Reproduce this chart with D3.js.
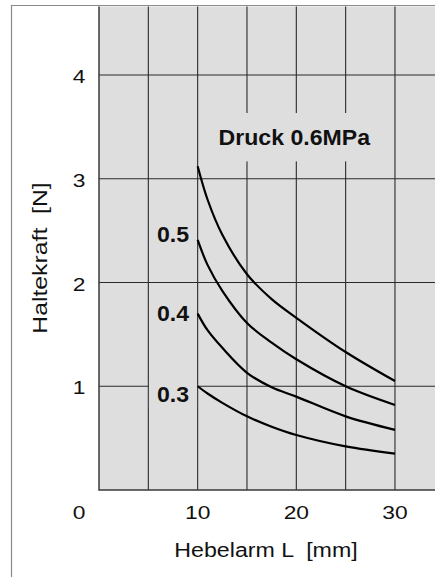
<!DOCTYPE html>
<html>
<head>
<meta charset="utf-8">
<script src="https://cdn.jsdelivr.net/npm/d3@7"></script>
<style>
  body { margin: 0; background: #fff; }
  svg { display: block; }
  text { white-space: pre; }
</style>
</head>
<body>
<div id="chart"></div>
<script>
'use strict';

// Hebelarm L [mm] and Haltekraft [N] per Druck
var hebelarm = [10, 11, 12.5, 15, 17.5, 20, 25, 30];
var kraft06 = [3.12, 2.80, 2.46, 2.08, 1.84, 1.66, 1.33, 1.05];
var kraft05 = [2.41, 2.17, 1.92, 1.61, 1.42, 1.26, 1.00, 0.82];
var kraft04 = [1.70, 1.54, 1.37, 1.13, 0.99, 0.90, 0.71, 0.58];
var kraft03 = [1.00, 0.93, 0.84, 0.71, 0.61, 0.53, 0.42, 0.35];
var druckLabels = ['Druck 0.6MPa', '0.5', '0.4', '0.3'];
var xTicks = [10, 20, 30];
var yTicks = [1, 2, 3, 4];
var xGrid = [5, 10, 15, 20, 25, 30, 35];

var width = 435, height = 577;
var font = '"Liberation Sans", Arial, Helvetica, sans-serif';

var svg = d3.select('#chart').append('svg')
  .attr('width', width)
  .attr('height', height);

var x = d3.scaleLinear().domain([0, 35]).range([99, 444.3]);
var y = d3.scaleLinear().domain([0, 4]).range([490, 75]);

// outer frame (top + left only)
svg.append('path')
  .attr('d', 'M11.5,' + height + 'V5.5H' + width)
  .attr('fill', 'none')
  .attr('stroke', '#8a8a8a')
  .attr('stroke-width', 1.2);

// plot background
svg.append('rect')
  .attr('x', x(0))
  .attr('y', 6.5)
  .attr('width', width - x(0))
  .attr('height', y(0) - 6.5)
  .attr('fill', '#dedede');

var grid = svg.append('g')
  .attr('stroke', '#2a2a2a')
  .attr('stroke-width', 1.1);

grid.selectAll('line.v')
  .data(xGrid)
  .enter().append('line')
  .attr('class', 'v')
  .attr('x1', function(d) { return x(d); })
  .attr('x2', function(d) { return x(d); })
  .attr('y1', 6.5)
  .attr('y2', y(0));

grid.selectAll('line.h')
  .data(yTicks)
  .enter().append('line')
  .attr('class', 'h')
  .attr('x1', x(0))
  .attr('x2', width)
  .attr('y1', function(d) { return y(d); })
  .attr('y2', function(d) { return y(d); });

// axis edges
svg.append('path')
  .attr('d', 'M' + x(0) + ',6.5V' + y(0) + 'H' + width)
  .attr('fill', 'none')
  .attr('stroke', '#3a3a3a')
  .attr('stroke-width', 1.5);

// helper: text stretched horizontally like the original
function addText(parent, px, py, str, opts) {
  var g = parent.append('g')
    .attr('transform', 'translate(' + px + ',' + py + ')' + (opts.rotate ? ' rotate(' + opts.rotate + ')' : '') + ' scale(' + opts.sx + ',1)');
  var t = g.append('text')
    .attr('text-anchor', opts.anchor || 'middle')
    .attr('font-family', font)
    .attr('font-size', opts.size)
    .attr('font-weight', opts.bold ? 'bold' : 'normal')
    .attr('xml:space', 'preserve')
    .attr('fill', '#111')
    .text(str);
  if (opts.box) {
    var b = t.node().getBBox();
    g.insert('rect', 'text')
      .attr('x', b.x - opts.box[0] / opts.sx)
      .attr('y', b.y - opts.box[1])
      .attr('width', b.width + 2 * opts.box[0] / opts.sx)
      .attr('height', b.height + 2 * opts.box[1])
      .attr('fill', '#dedede');
  }
  return g;
}

// tick labels
yTicks.forEach(function(d) {
  addText(svg, 79, y(d) + 8, d, { size: 19, sx: 1.2 });
});
xTicks.forEach(function(d) {
  addText(svg, x(d), 519, d, { size: 19, sx: 1.2 });
});
addText(svg, 79, 519, '0', { size: 19, sx: 1.2 });

// axis titles
addText(svg, 266, 557, 'Hebelarm L  [mm]', { size: 20, sx: 1.16 });
addText(svg, 46.5, 258, 'Haltekraft  [N]', { size: 20, sx: 1.24, rotate: -90 });

// curves
var series = [kraft06, kraft05, kraft04, kraft03];
var line = d3.line()
  .x(function(d) { return x(d[0]); })
  .y(function(d) { return y(d[1]); })
  .curve(d3.curveCatmullRom.alpha(0.5));

svg.append('g')
  .selectAll('path')
  .data(series)
  .enter().append('path')
  .attr('d', function(s) { return line(d3.zip(hebelarm, s)); })
  .attr('fill', 'none')
  .attr('stroke', '#000')
  .attr('stroke-width', 2.2);

// curve labels
addText(svg, x(20) - 2, y(3.33), druckLabels[0], { size: 22, sx: 1.05, bold: true, box: [6, 12] });
addText(svg, x(7.5), y(2.39), druckLabels[1], { size: 22, sx: 1.05, bold: true, box: [3, 1] });
addText(svg, x(7.5), y(1.63), druckLabels[2], { size: 22, sx: 1.05, bold: true, box: [3, 1] });
addText(svg, x(7.5), y(0.85), druckLabels[3], { size: 22, sx: 1.05, bold: true, box: [8, 1] });
</script>
</body>
</html>
